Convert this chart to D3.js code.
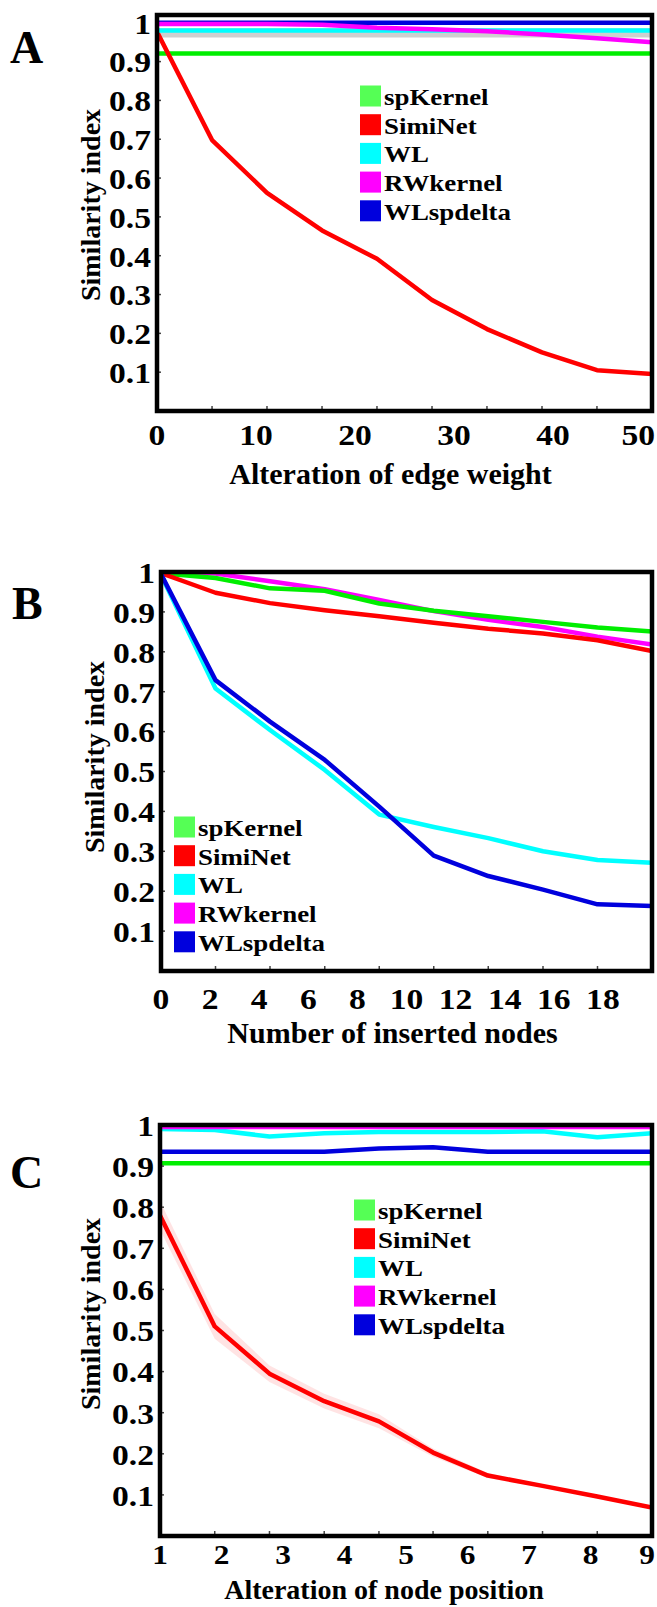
<!DOCTYPE html>
<html><head><meta charset="utf-8">
<script src="https://cdn.jsdelivr.net/npm/d3@7"></script>
<style>body{margin:0;background:#fff}svg{display:block}</style>
</head><body>
<svg id="c" width="657" height="1607"></svg>
<script>
// ---------- data ----------
const seriesNames = ["spKernel", "SimiNet", "WL", "RWkernel", "WLspdelta"];
const yTickLabels = ["0.1","0.2","0.3","0.4","0.5","0.6","0.7","0.8","0.9","1"];
const yTickValues = [0.1,0.2,0.3,0.4,0.5,0.6,0.7,0.8,0.9,1];

// Panel A: alteration of edge weight
const aX = [0, 5.56, 11.11, 16.67, 22.22, 27.78, 33.33, 38.89, 44.44, 50];
const aTicks = [0, 10, 20, 30, 40, 50];
const aSpKernel  = [0.921,0.921,0.921,0.921,0.921,0.921,0.921,0.921,0.921,0.921];
const aSimiNet   = [0.977,0.698,0.562,0.465,0.392,0.286,0.211,0.151,0.105,0.095];
const aWL        = [0.980,0.980,0.980,0.980,0.980,0.980,0.980,0.980,0.980,0.980];
const aWLLow     = [0.962,0.962,0.962,0.962,0.962,0.962,0.962,0.962,0.962,0.962];
const aWLHigh    = [0.986,0.986,0.986,0.986,0.986,0.986,0.986,0.986,0.986,0.986];
const aRWkernel  = [0.997,0.997,0.997,0.995,0.987,0.983,0.978,0.970,0.960,0.950];
const aWLspdelta = [1.000,1.000,1.000,1.000,1.000,1.000,1.000,1.000,1.000,1.000];

// Panel B: number of inserted nodes
const bX = [0, 2.22, 4.44, 6.67, 8.89, 11.11, 13.33, 15.56, 17.78, 20];
const bTicks = [0, 2, 4, 6, 8, 10, 12, 14, 16, 18];
const bSpKernel  = [0.997,0.985,0.959,0.953,0.921,0.903,0.889,0.875,0.861,0.851];
const bSimiNet   = [0.997,0.948,0.922,0.904,0.889,0.873,0.858,0.846,0.829,0.802];
const bWL        = [0.993,0.708,0.604,0.504,0.392,0.361,0.333,0.300,0.278,0.271];
const bRWkernel  = [0.998,0.996,0.977,0.957,0.930,0.902,0.880,0.862,0.838,0.818];
const bWLspdelta = [0.995,0.729,0.625,0.529,0.412,0.289,0.238,0.204,0.167,0.163];

// Panel C: alteration of node position
const cX = [1, 1.89, 2.78, 3.67, 4.56, 5.44, 6.33, 7.22, 8.11, 9];
const cTicks = [1, 2, 3, 4, 5, 6, 7, 8, 9];
const cSpKernel  = [0.907,0.907,0.907,0.907,0.907,0.907,0.907,0.907,0.907,0.907];
const cSimiNet   = [0.780,0.510,0.395,0.328,0.279,0.203,0.147,0.122,0.096,0.069];
const cSimiLow   = [0.745,0.480,0.375,0.310,0.262,0.193,0.141,0.118,0.093,0.066];
const cSimiHigh  = [0.815,0.540,0.415,0.346,0.296,0.213,0.153,0.126,0.099,0.072];
const cWL        = [0.990,0.988,0.972,0.980,0.983,0.983,0.983,0.985,0.970,0.980];
const cRWkernel  = [0.995,0.995,0.995,0.995,0.995,0.995,0.995,0.995,0.995,0.995];
const cWLspdelta = [0.935,0.935,0.935,0.935,0.943,0.946,0.935,0.935,0.935,0.935];

// ---------- styling ----------
const lineColors = {spKernel:"#00ee00", SimiNet:"#ff0000", WL:"#00ffff", RWkernel:"#ff00ff", WLspdelta:"#0000dd"};
const legendColors = {spKernel:"#55ff55", SimiNet:"#ff0000", WL:"#00ffff", RWkernel:"#ff00ff", WLspdelta:"#0000dd"};
const SERIF = "'Liberation Serif','Times New Roman',serif";
const PAGE_W = 657;
const svg = d3.select("#c");

function txt(g, x, y, s, size, sx, anchor, rot) {
  const t = g.append("text")
    .attr("font-family", SERIF).attr("font-weight", "bold")
    .attr("font-size", size).attr("text-anchor", anchor)
    .attr("dominant-baseline", "central").attr("fill", "#000").text(s);
  let xx = x;
  if (!rot && anchor === "middle") {
    const w = t.node().getComputedTextLength() * sx;
    if (xx + w / 2 > PAGE_W - 2) xx = PAGE_W - 2 - w / 2;
  }
  t.attr("transform", `translate(${xx},${y})` + (rot ? ` rotate(${rot})` : "") + ` scale(${sx},1)`);
  return t;
}

function panel(p) {
  const x = d3.scaleLinear().domain(p.xDomain).range([p.L, p.R]);
  const y = d3.scaleLinear().domain(p.yDomain).range([p.B, p.T]);
  const g = svg.append("g");
  const clipId = "clip" + p.id;
  g.append("clipPath").attr("id", clipId).append("rect")
    .attr("x", p.L).attr("y", p.T).attr("width", p.R - p.L).attr("height", p.B - p.T);
  const plot = g.append("g").attr("clip-path", `url(#${clipId})`);

  if (p.band) {
    const area = d3.area().x((d, i) => x(p.xs[i])).y0((d, i) => y(p.band.low[i])).y1((d, i) => y(p.band.high[i]));
    plot.append("path").datum(p.band.low).attr("d", area).attr("fill", p.band.color);
  }
  const line = d3.line().x((d, i) => x(p.xs[i])).y(d => y(d));
  p.order.forEach(name => {
    plot.append("path").datum(p.series[name]).attr("d", line)
      .attr("fill", "none").attr("stroke", lineColors[name])
      .attr("stroke-width", p.lw).attr("stroke-linejoin", "round");
  });

  // inward ticks
  p.xs.slice(1, -1).forEach(v => {
    g.append("line").attr("x1", x(v)).attr("x2", x(v)).attr("y1", p.B).attr("y2", p.B - 5)
      .attr("stroke", "#444").attr("stroke-width", 1.5);
  });
  yTickValues.forEach(v => {
    if (v >= 1) return;
    g.append("line").attr("x1", p.L).attr("x2", p.L + 4).attr("y1", y(v)).attr("y2", y(v))
      .attr("stroke", "#444").attr("stroke-width", 1.5);
  });

  // frame
  g.append("rect").attr("x", p.L).attr("y", p.T).attr("width", p.R - p.L).attr("height", p.B - p.T)
    .attr("fill", "none").attr("stroke", "#000").attr("stroke-width", 4.5);

  // y tick labels
  yTickValues.forEach((v, i) => txt(g, p.L - 6, y(v) + 1, yTickLabels[i], 30, 1.12, "end"));
  // x tick labels
  p.xTicks.forEach(v => txt(g, x(v), p.xLabY, String(v), p.xLabSize, 1.12, "middle"));
  // titles
  txt(g, (p.L + p.R) / 2 + p.xTitleDx, p.xTitleY, p.xTitle, p.xTitleSize, 1.0, "middle");
  txt(g, p.yTitleX, p.yTitleY, "Similarity  index", 28, 1.0, "middle", -90);
  // panel letter
  g.append("text").attr("x", p.letterX).attr("y", p.letterY)
    .attr("font-family", SERIF).attr("font-weight", "bold").attr("font-size", 46).text(p.letter);

  // legend
  seriesNames.forEach((name, i) => {
    const cy = p.legY + i * 28.7;
    g.append("rect").attr("x", p.legX).attr("y", cy - 10.5).attr("width", 21).attr("height", 21)
      .attr("fill", legendColors[name]);
    txt(g, p.legX + 24, cy + 1, name, 23, 1.17, "start");
  });
}

panel({
  id: "A", letter: "A", letterX: 10, letterY: 63,
  L: 157, R: 652, T: 15, B: 411, xDomain: [0, 50], yDomain: [0, 1.02],
  xs: aX, xTicks: aTicks, xLabY: 435, xLabSize: 30, xTitle: "Alteration of edge weight", xTitleY: 473, xTitleSize: 30, xTitleDx: -14,
  yTitleX: 90, yTitleY: 205, legX: 360, legY: 96, lw: 4.5,
  series: {spKernel: aSpKernel, SimiNet: aSimiNet, WL: aWL, RWkernel: aRWkernel, WLspdelta: aWLspdelta},
  band: {low: aWLLow, high: aWLHigh, color: "#cfcfcf"},
  order: ["spKernel", "SimiNet", "WL", "WLspdelta", "RWkernel"]
});
panel({
  id: "B", letter: "B", letterX: 12, letterY: 619,
  L: 161, R: 652, T: 572, B: 971, xDomain: [0, 20], yDomain: [0, 1],
  xs: bX, xTicks: bTicks, xLabY: 999, xLabSize: 30, xTitle: "Number  of inserted nodes", xTitleY: 1032, xTitleSize: 30, xTitleDx: -14,
  yTitleX: 94, yTitleY: 757, legX: 174, legY: 827, lw: 4.5,
  series: {spKernel: bSpKernel, SimiNet: bSimiNet, WL: bWL, RWkernel: bRWkernel, WLspdelta: bWLspdelta},
  order: ["RWkernel", "spKernel", "SimiNet", "WL", "WLspdelta"]
});
panel({
  id: "C", letter: "C", letterX: 10, letterY: 1188,
  L: 160, R: 652, T: 1125, B: 1536, xDomain: [1, 9], yDomain: [0, 1],
  xs: cX, xTicks: cTicks, xLabY: 1555, xLabSize: 28, xTitle: "Alteration of node position", xTitleY: 1589, xTitleSize: 28, xTitleDx: -22,
  yTitleX: 90, yTitleY: 1314, legX: 354, legY: 1210, lw: 4.5,
  series: {spKernel: cSpKernel, SimiNet: cSimiNet, WL: cWL, RWkernel: cRWkernel, WLspdelta: cWLspdelta},
  band: {low: cSimiLow, high: cSimiHigh, color: "rgba(255,80,80,0.16)"},
  order: ["spKernel", "SimiNet", "WL", "WLspdelta", "RWkernel"]
});
</script>
</body></html>
